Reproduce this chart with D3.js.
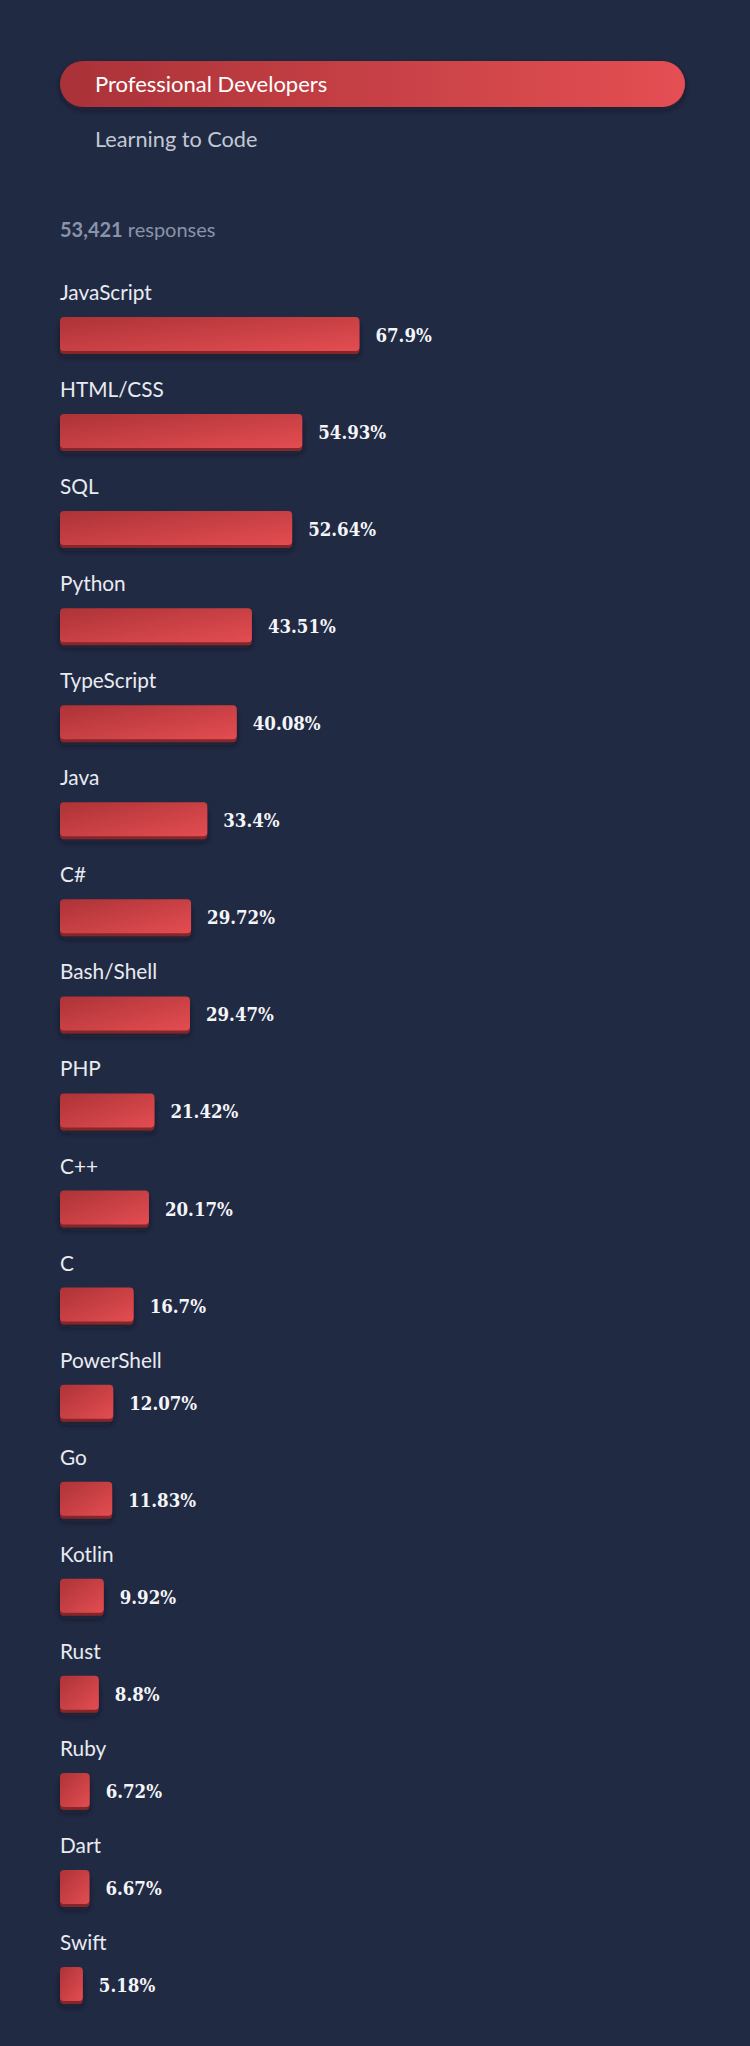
<!DOCTYPE html>
<html>
<head>
<meta charset="utf-8">
<script src="https://cdn.jsdelivr.net/npm/d3@7"></script>
<style>
  html, body { margin: 0; padding: 0; background: #212a43; }
  svg { display: block; }
</style>
</head>
<body>
<div id="chart"></div>
<script>
// survey data
var tabs = ["Professional Developers", "Learning to Code"];
var responses = "53,421";
var languages = ["JavaScript", "HTML/CSS", "SQL", "Python", "TypeScript", "Java", "C#", "Bash/Shell",
  "PHP", "C++", "C", "PowerShell", "Go", "Kotlin", "Rust", "Ruby", "Dart", "Swift"];
var shares = [67.9, 54.93, 52.64, 43.51, 40.08, 33.4, 29.72, 29.47,
  21.42, 20.17, 16.7, 12.07, 11.83, 9.92, 8.8, 6.72, 6.67, 5.18];

var width = 750, height = 2046;
var left = 60;
var sans = "Lato, 'Noto Sans', sans-serif";
var slab = "'DejaVu Serif', serif";

var svg = d3.select("#chart").append("svg")
    .attr("width", width)
    .attr("height", height);

var defs = svg.append("defs");

var pillGrad = defs.append("linearGradient").attr("id", "pillGrad")
    .attr("x1", 0).attr("y1", 0).attr("x2", 1).attr("y2", 0);
pillGrad.append("stop").attr("offset", "0%").attr("stop-color", "#a93238");
pillGrad.append("stop").attr("offset", "100%").attr("stop-color", "#e44f53");

var barGrad = defs.append("linearGradient").attr("id", "barGrad")
    .attr("x1", 0).attr("y1", 0).attr("x2", 1).attr("y2", 1);
barGrad.append("stop").attr("offset", "0%").attr("stop-color", "#ad3337");
barGrad.append("stop").attr("offset", "100%").attr("stop-color", "#e34d51");

var shadow = defs.append("filter").attr("id", "shadow")
    .attr("x", "-20%").attr("y", "-30%").attr("width", "140%").attr("height", "170%");
shadow.append("feDropShadow")
    .attr("dx", 0).attr("dy", 3).attr("stdDeviation", 3)
    .attr("flood-color", "#0b0f1c").attr("flood-opacity", 0.55);

svg.append("rect").attr("width", width).attr("height", height).attr("fill", "#212a43");

// toggle at the top
svg.append("rect")
    .attr("x", left).attr("y", 61)
    .attr("width", 625).attr("height", 46)
    .attr("rx", 23)
    .attr("fill", "url(#pillGrad)")
    .attr("filter", "url(#shadow)");

svg.append("text")
    .attr("x", 95).attr("y", 92)
    .attr("font-family", sans).attr("font-size", 22)
    .attr("fill", "#ffffff")
    .text(tabs[0]);

svg.append("text")
    .attr("x", 95).attr("y", 147)
    .attr("font-family", sans).attr("font-size", 21.7)
    .attr("fill", "#c3c8d4")
    .text(tabs[1]);

var resp = svg.append("text")
    .attr("x", left).attr("y", 237)
    .attr("font-family", sans).attr("font-size", 20)
    .attr("fill", "#8a93a9");
resp.append("tspan").attr("font-weight", "bold").text(responses);
resp.append("tspan").text(" responses");

// scales
var x = d3.scaleLinear().domain([0, 100]).range([0, 441]);
var y = d3.scaleBand().domain(languages).range([317, 317 + languages.length * 97.06]);

var rows = svg.selectAll("g.row")
    .data(languages)
    .enter().append("g")
    .attr("class", "row")
    .attr("transform", function (d) { return "translate(0," + y(d) + ")"; });

rows.append("text")
    .attr("x", left).attr("y", -17)
    .attr("font-family", sans).attr("font-size", 20.8)
    .attr("fill", "#e9ebf1")
    .text(function (d) { return d; });

// dark bottom edge first, then the face of the bar
rows.append("rect")
    .attr("x", left).attr("y", 3)
    .attr("width", function (d, i) { return x(shares[i]); })
    .attr("height", 34)
    .attr("rx", 4)
    .attr("fill", "#852629")
    .attr("filter", "url(#shadow)");

rows.append("rect")
    .attr("x", left).attr("y", 0)
    .attr("width", function (d, i) { return x(shares[i]); })
    .attr("height", 34)
    .attr("rx", 4)
    .attr("fill", "url(#barGrad)");

rows.append("text")
    .attr("x", function (d, i) { return left + x(shares[i]) + 16; })
    .attr("y", 25)
    .attr("font-family", slab).attr("font-weight", "bold")
    .attr("font-size", 18.5)
    .style("font-stretch", "condensed")
    .attr("fill", "#f4f5f8")
    .text(function (d, i) { return shares[i] + "%"; });
</script>
</body>
</html>
